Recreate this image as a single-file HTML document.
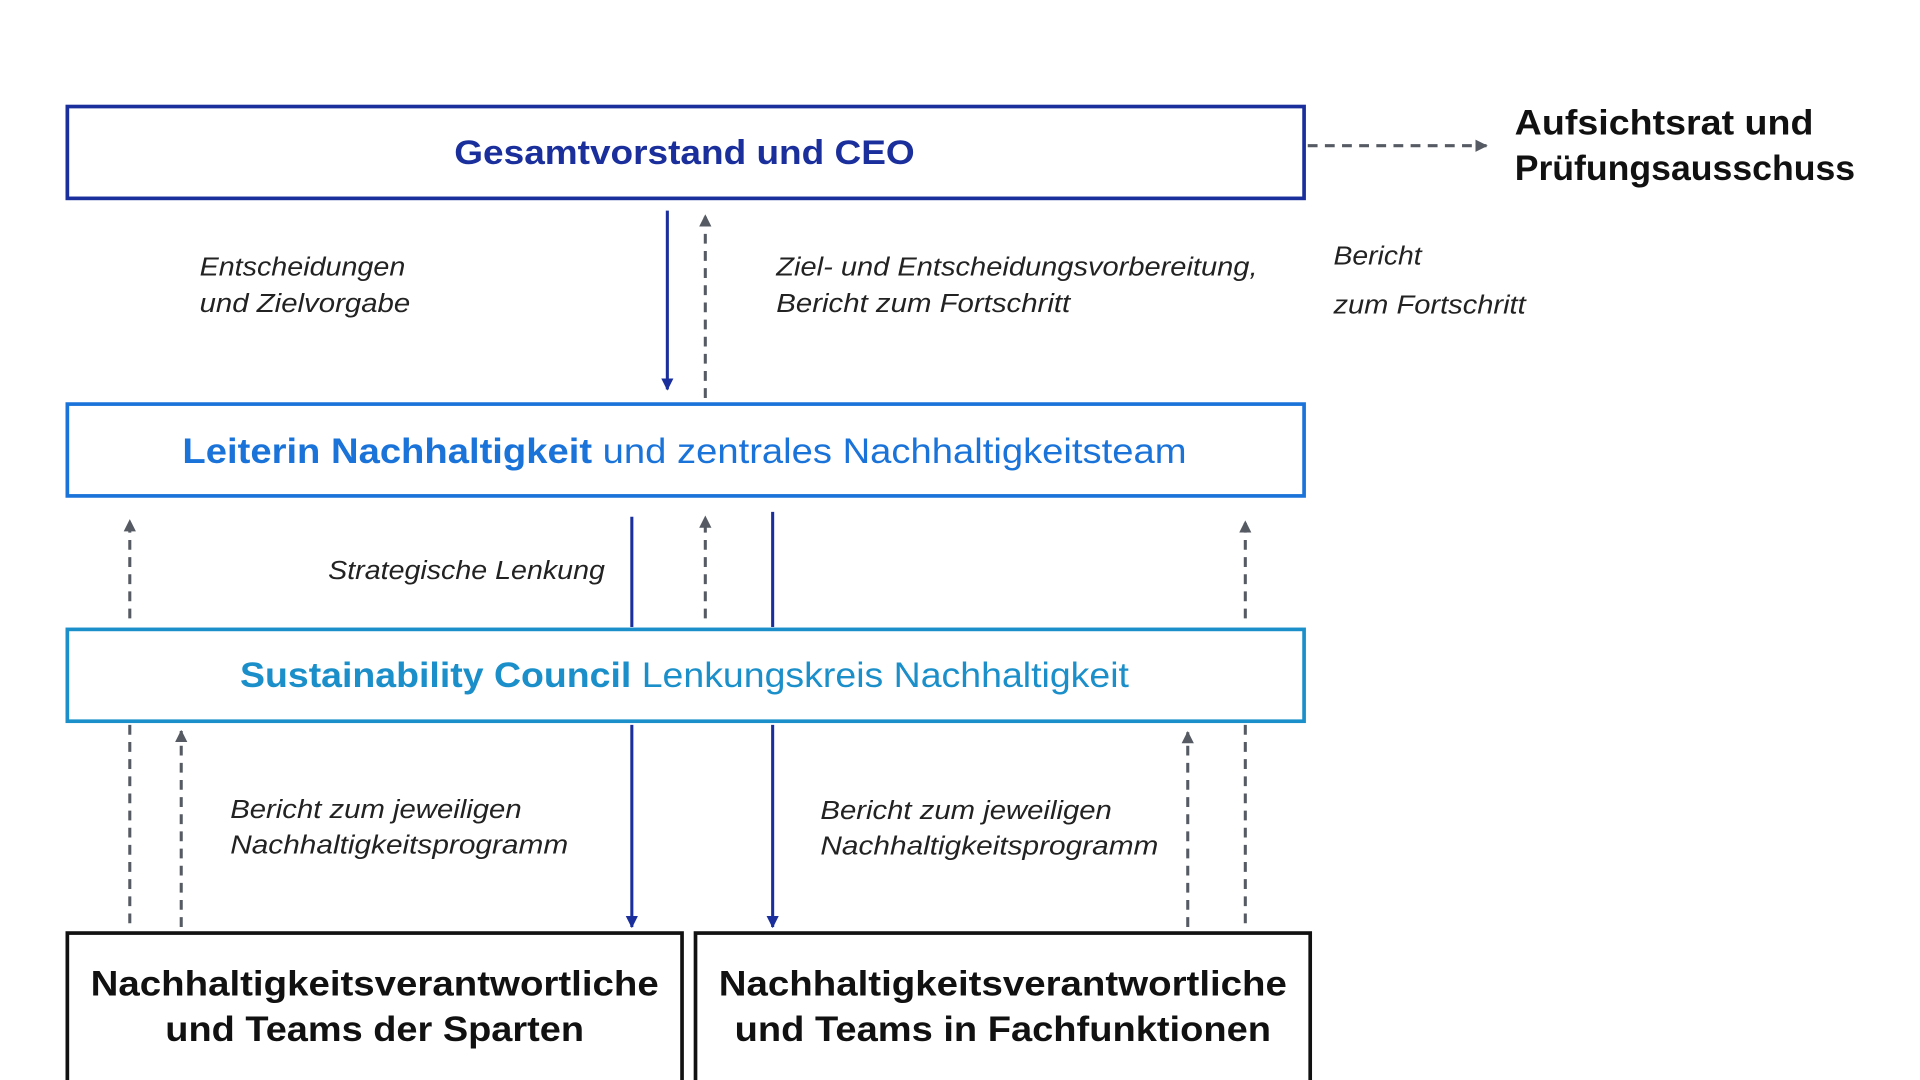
<!DOCTYPE html>
<html><head><meta charset="utf-8"><style>
html,body{margin:0;padding:0;background:#fff;width:1920px;height:1080px;overflow:hidden}
svg{display:block}
text{font-family:"Liberation Sans",sans-serif}
.it{font-style:italic;font-size:21px;fill:#222}
.bk{font-weight:bold;font-size:29px;fill:#111}
</style></head><body>
<svg width="1920" height="1080" viewBox="0 0 1568 882" xmlns="http://www.w3.org/2000/svg">
<defs>
<marker id="ab" markerWidth="10" markerHeight="14" refX="9" refY="5" orient="auto" markerUnits="userSpaceOnUse"><path d="M0,0 L10,5 L0,10 Z" fill="#1a2f9c" transform="scale(1,1)"/></marker>
<marker id="ag" markerWidth="10" markerHeight="14" refX="9" refY="5" orient="auto" markerUnits="userSpaceOnUse"><path d="M0,0 L10,5 L0,10 Z" fill="#555a63"/></marker>
</defs>
<!-- boxes -->
<rect x="55" y="87" width="1010" height="75" fill="none" stroke="#1a2f9c" stroke-width="3"/>
<rect x="55" y="330" width="1010" height="75" fill="none" stroke="#1a73d9" stroke-width="3"/>
<rect x="55" y="514" width="1010" height="75" fill="none" stroke="#1a8fc9" stroke-width="3"/>
<rect x="55" y="762" width="502" height="125" fill="none" stroke="#111" stroke-width="3"/>
<rect x="568" y="762" width="502" height="125" fill="none" stroke="#111" stroke-width="3"/>
<!-- box text -->
<text x="559" y="134" text-anchor="middle" font-weight="bold" font-size="28" fill="#1a2f9c" textLength="376" lengthAdjust="spacingAndGlyphs">Gesamtvorstand und CEO</text>
<text x="149" y="378" font-size="29" fill="#1a73d9" textLength="820" lengthAdjust="spacingAndGlyphs"><tspan font-weight="bold">Leiterin Nachhaltigkeit</tspan> und zentrales Nachhaltigkeitsteam</text>
<text x="196" y="561" font-size="29" fill="#1a8fc9" textLength="726" lengthAdjust="spacingAndGlyphs"><tspan font-weight="bold">Sustainability Council</tspan>  Lenkungskreis Nachhaltigkeit</text>
<text class="bk" x="306" y="813" text-anchor="middle" textLength="464" lengthAdjust="spacingAndGlyphs">Nachhaltigkeitsverantwortliche</text>
<text class="bk" x="306" y="850" text-anchor="middle" textLength="342" lengthAdjust="spacingAndGlyphs">und Teams der Sparten</text>
<text class="bk" x="819" y="813" text-anchor="middle" textLength="464" lengthAdjust="spacingAndGlyphs">Nachhaltigkeitsverantwortliche</text>
<text class="bk" x="819" y="850" text-anchor="middle" textLength="438" lengthAdjust="spacingAndGlyphs">und Teams in Fachfunktionen</text>
<text class="bk" x="1237" y="110" textLength="244" lengthAdjust="spacingAndGlyphs">Aufsichtsrat und</text>
<text class="bk" x="1237" y="147" textLength="278" lengthAdjust="spacingAndGlyphs">Prüfungsausschuss</text>
<!-- labels -->
<text class="it" x="163" y="225" textLength="168" lengthAdjust="spacingAndGlyphs">Entscheidungen</text>
<text class="it" x="163" y="255" textLength="172" lengthAdjust="spacingAndGlyphs">und Zielvorgabe</text>
<text class="it" x="634" y="225" textLength="393" lengthAdjust="spacingAndGlyphs">Ziel- und Entscheidungsvorbereitung,</text>
<text class="it" x="634" y="255" textLength="240" lengthAdjust="spacingAndGlyphs">Bericht zum Fortschritt</text>
<text class="it" x="1089" y="216" textLength="72" lengthAdjust="spacingAndGlyphs">Bericht</text>
<text class="it" x="1089" y="256" textLength="157" lengthAdjust="spacingAndGlyphs">zum Fortschritt</text>
<text class="it" x="268" y="473" textLength="226" lengthAdjust="spacingAndGlyphs">Strategische Lenkung</text>
<text class="it" x="188" y="668" textLength="238" lengthAdjust="spacingAndGlyphs">Bericht zum jeweiligen</text>
<text class="it" x="188" y="697" textLength="276" lengthAdjust="spacingAndGlyphs">Nachhaltigkeitsprogramm</text>
<text class="it" x="670" y="669" textLength="238" lengthAdjust="spacingAndGlyphs">Bericht zum jeweiligen</text>
<text class="it" x="670" y="698" textLength="276" lengthAdjust="spacingAndGlyphs">Nachhaltigkeitsprogramm</text>
<!-- connectors -->
<g stroke="#1a2f9c" stroke-width="2.5" fill="none">
<line x1="545" y1="172" x2="545" y2="318" marker-end="url(#ab)"/>
<line x1="516" y1="422" x2="516" y2="512"/>
<line x1="631" y1="418" x2="631" y2="512"/>
<line x1="516" y1="592" x2="516" y2="757" marker-end="url(#ab)"/>
<line x1="631" y1="592" x2="631" y2="757" marker-end="url(#ab)"/>
</g>
<g stroke="#555a63" stroke-width="2.5" fill="none" stroke-dasharray="8,6">
<line x1="576" y1="325" x2="576" y2="176" marker-end="url(#ag)"/>
<line x1="1068" y1="119" x2="1214" y2="119" marker-end="url(#ag)"/>
<line x1="106" y1="505" x2="106" y2="425" marker-end="url(#ag)"/>
<line x1="576" y1="505" x2="576" y2="422" marker-end="url(#ag)"/>
<line x1="1017" y1="505" x2="1017" y2="426" marker-end="url(#ag)"/>
<line x1="106" y1="592" x2="106" y2="757"/>
<line x1="148" y1="757" x2="148" y2="597" marker-end="url(#ag)"/>
<line x1="970" y1="757" x2="970" y2="598" marker-end="url(#ag)"/>
<line x1="1017" y1="592" x2="1017" y2="757"/>
</g>
</svg>
</body></html>
